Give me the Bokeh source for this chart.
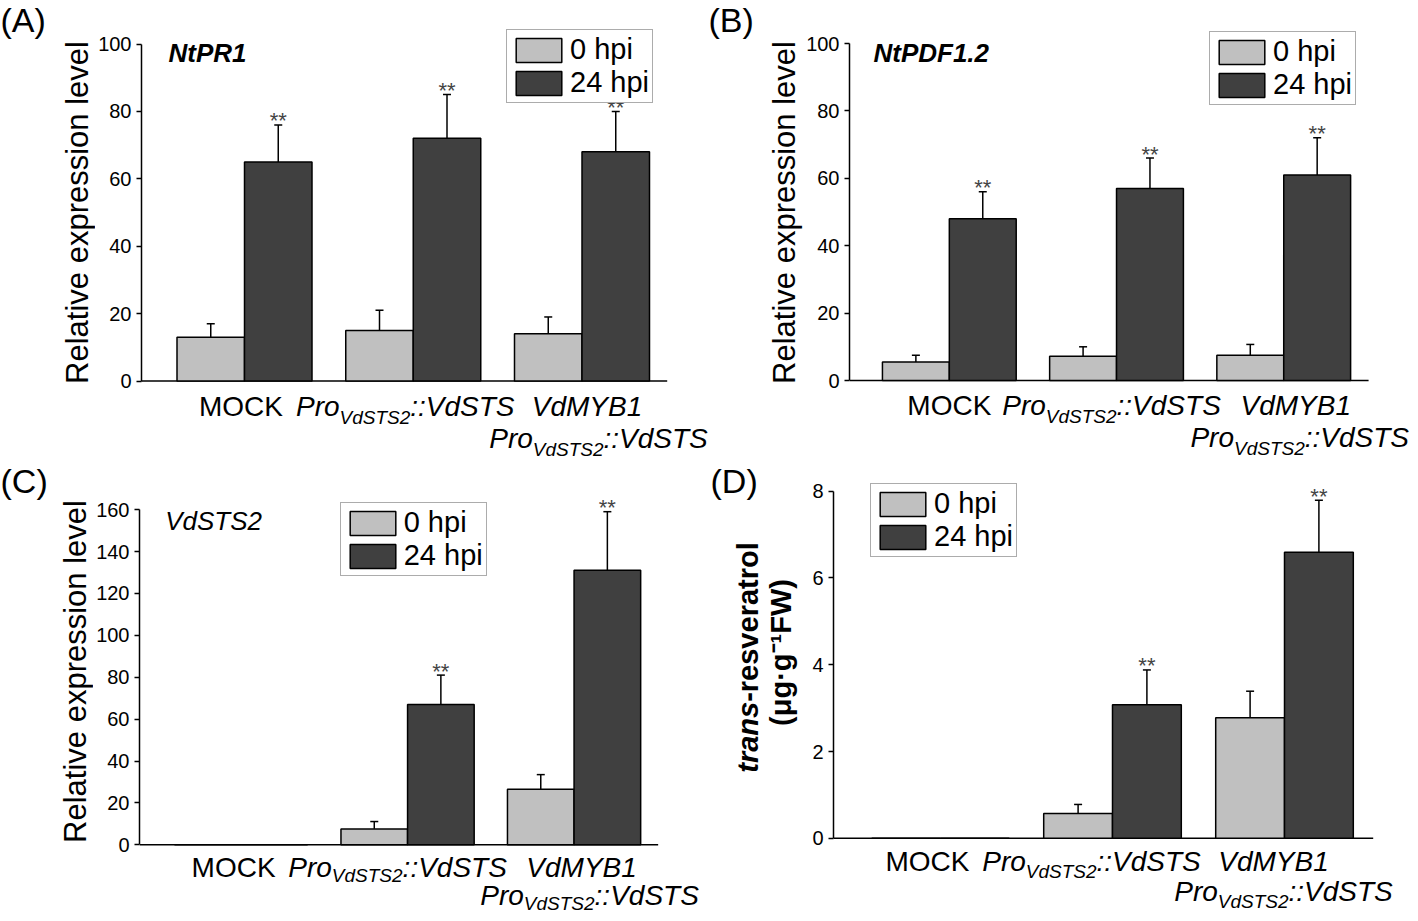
import numpy as np
from bokeh.plotting import figure
from bokeh.models import (ColumnDataSource, FixedTicker, Whisker, TeeHead,
                          Legend, LegendItem, Range1d)
from bokeh.layouts import row, column
from bokeh.embed import file_html
from bokeh.resources import INLINE
from bokeh.core.properties import value

# ---------------- data ----------------
series = ["0 hpi", "24 hpi"]
groups = ["MOCK", "ProVdSTS2::VdSTS", "VdMYB1 ProVdSTS2::VdSTS"]

a_0h = [13, 15, 14]
a_0h_sd = [4, 6, 5]
a_24h = [65, 72, 68]
a_24h_sd = [11, 13, 12]
a_sig = ["**", "**", "**"]

b_0h = [5.5, 7.2, 7.5]
b_0h_sd = [2.0, 2.8, 3.2]
b_24h = [48, 57, 61]
b_24h_sd = [8, 9, 11]
b_sig = ["**", "**", "**"]

c_0h = [0, 7.6, 26.5]
c_0h_sd = [0, 3.5, 7.0]
c_24h = [0, 67, 131]
c_24h_sd = [0, 14, 28]
c_sig = ["", "**", "**"]

d_0h = [0, 0.57, 2.78]
d_0h_sd = [0, 0.21, 0.61]
d_24h = [0, 3.08, 6.59]
d_24h_sd = [0, 0.80, 1.20]
d_sig = ["", "**", "**"]

FONT = "Liberation Sans"
LIGHT = "#c0c0c0"
DARK = "#404040"
MID = 0.35  # em distance between baseline and text middle

# Arial/Liberation Sans advance widths (em)
W_PRO = 1.556
W_SUB = 3.724
W_REST = 3.724


def txt(p, x, y, s, fs, style="normal", align="left", angle=0.0, x_offset=0, y_offset=0):
    p.text(x=[x], y=[y], text=[s], text_align=align, text_baseline="middle",
           text_font=value(FONT), text_font_size=f"{fs}px", text_font_style=style,
           text_color="black", angle=angle, x_offset=x_offset, y_offset=y_offset)


def tag_fig(x0, y0, W, H):
    """Narrow figure left of a panel's axis; its data units are page pixels."""
    p = figure(width=W, height=H, x_range=Range1d(x0, x0 + W), y_range=Range1d(-(y0 + H), -y0),
               output_backend="svg", toolbar_location=None,
               x_axis_location=None, y_axis_location=None,
               min_border_left=0, min_border_right=0, min_border_top=0, min_border_bottom=0)
    p.outline_line_color = None
    p.grid.visible = False
    return p


def build(fig_x0, fig_y0, W, H, axis_x, y0, ppu, c0, sp, xaxis_end,
          ymax, ystep, v0, s0, v1, s1, sig, legend_top,
          gene=None, gene_xy=None, gene_style="bold italic", label_dx=(0, 0, 0, 0),
          bases=(35, 67, 8)):
    xs = (axis_x - c0) / sp
    xe = (fig_x0 + W - c0) / sp
    ye = (y0 - fig_y0) / ppu
    ysr = (y0 - (fig_y0 + H)) / ppu

    def X(ix):
        return (ix - c0) / sp

    def Y(iy):
        return (y0 - iy) / ppu

    p = figure(width=W, height=H, x_range=Range1d(xs, xe), y_range=Range1d(ysr, ye),
               output_backend="svg", toolbar_location=None, x_axis_location=None,
               min_border_left=int(round(axis_x - fig_x0)), min_border_right=0,
               min_border_top=0, min_border_bottom=0)
    p.outline_line_color = None
    p.grid.visible = False

    ax = p.yaxis[0]
    ax.ticker = FixedTicker(ticks=list(np.arange(0, ymax + ystep / 2, ystep)))
    ax.bounds = (0, ymax)
    ax.axis_line_width = 1.5
    ax.axis_line_color = "black"
    ax.major_tick_out = 5
    ax.major_tick_in = 0
    ax.major_tick_line_width = 1.5
    ax.minor_tick_out = 0
    ax.minor_tick_in = 0
    ax.major_label_text_font = FONT
    ax.major_label_text_font_size = "20px"
    ax.major_label_text_color = "black"
    ax.major_label_standoff = 5

    x = np.arange(len(groups), dtype=float)
    v0 = np.array(v0, float); s0 = np.array(s0, float)
    v1 = np.array(v1, float); s1 = np.array(s1, float)

    # x axis line at zero
    p.segment(x0=[xs], y0=[0], x1=[X(xaxis_end)], y1=[0], line_color="black", line_width=1.5)

    src0 = ColumnDataSource(dict(x=x - 0.2, top=v0))
    src1 = ColumnDataSource(dict(x=x + 0.2, top=v1))
    r0 = p.vbar(x="x", top="top", bottom=0, width=0.4, source=src0,
                fill_color=LIGHT, line_color="black", line_width=1.5)
    r1 = p.vbar(x="x", top="top", bottom=0, width=0.4, source=src1,
                fill_color=DARK, line_color="black", line_width=1.5)

    for xx, vv, ss in ((x - 0.2, v0, s0), (x + 0.2, v1, s1)):
        m = ss > 0
        ws = ColumnDataSource(dict(base=xx[m], lower=vv[m], upper=(vv + ss)[m]))
        w = Whisker(base="base", lower="lower", upper="upper", source=ws, dimension="height",
                    line_color="black", line_width=1.5,
                    upper_head=TeeHead(size=8, line_width=1.5, line_color="black"),
                    lower_head=None)
        p.add_layout(w)

    # significance marks
    p.text(x=list(x + 0.2), y=list(v1 + s1), text=sig, text_align="center",
           text_baseline="middle", y_offset=-4, text_font=value(FONT),
           text_font_size="22px", text_color="#444444")

    # legend
    leg = Legend(items=[LegendItem(label=series[0], renderers=[r0]),
                        LegendItem(label=series[1], renderers=[r1])])
    lx, ly = legend_top
    leg.location = (lx - axis_x, (fig_y0 + H) - (ly + 73))
    leg.label_text_font = FONT
    leg.label_text_font_size = "29px"
    leg.label_text_color = "black"
    leg.glyph_width = 57
    leg.glyph_height = 30
    leg.label_standoff = 3
    leg.padding = 3
    leg.spacing = 0
    leg.margin = 0
    leg.border_line_color = "#5a5a5a"
    leg.border_line_width = 1.5
    leg.background_fill_color = "white"
    leg.background_fill_alpha = 1.0
    p.add_layout(leg)

    # gene name
    if gene:
        gx, gy = gene_xy
        txt(p, X(gx), Y(gy - MID * 26), gene, 26, style=gene_style)

    # category labels (baselines under the zero line)
    d1, d2, dsub = bases
    b1 = y0 + d1
    b2 = y0 + d2
    txt(p, x[0], Y(b1 - MID * 28), "MOCK", 28, align="center", x_offset=label_dx[0])
    txt(p, x[2], Y(b1 - MID * 28), "VdMYB1", 28, style="italic", align="center",
        x_offset=label_dx[2])

    def composite(xc, base, dx):
        w_pro = W_PRO * 28
        w_sub = W_SUB * 19
        w_rest = W_REST * 28
        left = dx - (w_pro + w_sub + w_rest) / 2
        txt(p, xc, Y(base - MID * 28), "Pro", 28, style="italic", x_offset=left)
        txt(p, xc, Y(base + dsub - MID * 19), "VdSTS2", 19, style="italic",
            x_offset=left + w_pro)
        txt(p, xc, Y(base - MID * 28), "::VdSTS", 28, style="italic",
            x_offset=left + w_pro + w_sub)

    composite(x[1], b1, label_dx[1])
    composite(x[2], b2, label_dx[3])
    return p


# ---------- panel A ----------
ta = tag_fig(0, 0, 95, 460)
txt(ta, 0, -(31 - MID * 34), "(A)", 34)
txt(ta, 88 - MID * 31, -212, "Relative expression level", 31, align="center", angle=np.pi / 2)
pa = build(95, 0, 613, 460, 141, 380.5, 3.37, 244, 168.75, 666.7,
           100, 20, a_0h, a_0h_sd, a_24h, a_24h_sd, a_sig, (506, 30),
           gene="NtPR1", gene_xy=(168, 62), label_dx=(-3.5, -8, 5, 16.5))

# ---------- panel B ----------
tb = tag_fig(708, 0, 95, 460)
txt(tb, 708, -(31 - MID * 34), "(B)", 34)
txt(tb, 795 - MID * 31, -212, "Relative expression level", 31, align="center", angle=np.pi / 2)
pb = build(803, 0, 607, 460, 848, 380, 3.37, 948, 167.5, 1368,
           100, 20, b_0h, b_0h_sd, b_24h, b_24h_sd, b_sig, (1208, 32),
           gene="NtPDF1.2", gene_xy=(872, 62), label_dx=(0, -5, 12, 16))

# ---------- panel C ----------
tc = tag_fig(0, 460, 93, 453)
txt(tc, 0, -(492 - MID * 34), "(C)", 34)
txt(tc, 86 - MID * 31, -671, "Relative expression level", 31, align="center", angle=np.pi / 2)
pc = build(93, 460, 615, 453, 138.3, 844.3, 2.095, 240, 166.7, 657.6,
           160, 20, c_0h, c_0h_sd, c_24h, c_24h_sd, c_sig, (339, 503),
           gene="VdSTS2", gene_xy=(164, 530), gene_style="italic",
           label_dx=(-7.5, -10, 7.5, 15.5), bases=(32, 60, 5))

# ---------- panel D ----------
td = tag_fig(708, 460, 100, 453)
txt(td, 710, -(492 - MID * 34), "(D)", 34)
fs = 29
w_trans = 2.445 * fs
w_resv = 5.502 * fs
bottom = 657 + (w_trans + w_resv) / 2
xl1 = 758 - MID * fs
txt(td, xl1, -bottom, "trans", fs, style="bold italic", angle=np.pi / 2)
txt(td, xl1, -(bottom - w_trans), "-resveratrol", fs, style="bold", angle=np.pi / 2)
txt(td, 791 - MID * fs, -652, "(\u03bcg\u00b7g\u207b\u00b9FW)", fs, style="bold",
    align="center", angle=np.pi / 2)
pd = build(808, 460, 602, 453, 833, 837.8, 43.39, 940, 172, 1372.7,
           8, 2, d_0h, d_0h_sd, d_24h, d_24h_sd, d_sig, (870, 484),
           label_dx=(-13, -21, -11, -1), bases=(33, 63, 7))

layout = column(row(ta, pa, tb, pb), row(tc, pc, td, pd))

open("out.html", "w").write(file_html(layout, INLINE))
